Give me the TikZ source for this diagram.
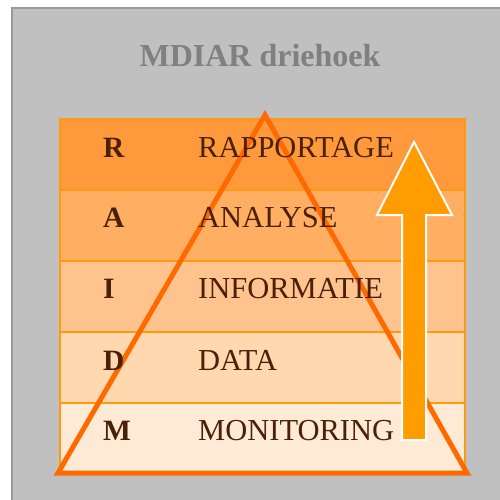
\documentclass[tikz,border=0pt]{standalone}
\usepackage{fontspec}
\setmainfont{Liberation Serif}
\usetikzlibrary{positioning}

\definecolor{panelgray}{HTML}{C0C0C0}
\definecolor{bordergray}{HTML}{9A9A9A}
\definecolor{titlegray}{HTML}{808080}
\definecolor{textbrown}{HTML}{4A2008}
\definecolor{edgeorange}{HTML}{FF9A10}
\definecolor{triorange}{HTML}{FF6A00}
\definecolor{arroworange}{HTML}{FF9C00}
\definecolor{rowR}{HTML}{FF9A3C}
\definecolor{rowA}{HTML}{FFAE62}
\definecolor{rowI}{HTML}{FFC48E}
\definecolor{rowD}{HTML}{FFD8B0}
\definecolor{rowM}{HTML}{FFEAD6}

\begin{document}
\begin{tikzpicture}[x=1pt,y=-1pt]
   \tikzset{rowbox/.style={draw=edgeorange,line width=2pt,minimum width=405pt,minimum height=71pt,inner sep=0pt}}
   \tikzset{letter/.style={anchor=base west,inner sep=0pt,text=textbrown,font=\fontsize{29.5}{30}\selectfont\bfseries}}
   \tikzset{word/.style={anchor=base west,inner sep=0pt,text=textbrown,font=\fontsize{30.5}{31}\selectfont}}
   \useasboundingbox (0,0) rectangle (500,499);
   \fill[white] (0,0) rectangle (500,499);
   \draw[fill=panelgray,draw=bordergray,line width=2pt] (12,8) rectangle (503,503);
   \node[text=titlegray,font=\fontsize{32}{34}\selectfont\bfseries] (title) at (260,56) {MDIAR driehoek};
   % lagen
   \node[rowbox,fill=rowR] (rowR) at (262.5,154) {};
   \node[rowbox,fill=rowA] (rowA) at (262.5,225) {};
   \node[rowbox,fill=rowI] (rowI) at (262.5,296) {};
   \node[rowbox,fill=rowD] (rowD) at (262.5,367) {};
   \node[rowbox,fill=rowM] (rowM) at (262.5,438) {};
   % driehoek
   \draw[triorange,line width=5pt,line join=miter] (265,115) -- (58,473) -- (467,473) -- cycle;
   % teksten
   \node[letter] (lR) at (103,157) {R};
   \node[letter] (lA) at (103,227) {A};
   \node[letter] (lI) at (103,298) {I};
   \node[letter] (lD) at (103,370) {D};
   \node[letter] (lM) at (103,440) {M};
   \node[word] (wR) at (198,157) {RAPPORTAGE};
   \node[word] (wA) at (198,227) {ANALYSE};
   \node[word] (wI) at (198,298) {INFORMATIE};
   \node[word] (wD) at (198,370) {DATA};
   \node[word] (wM) at (198,440) {MONITORING};
   % pijl
   \draw[fill=arroworange,draw=white,line width=2pt,line join=miter]
      (402,440) -- (402,215) -- (377,215) -- (414,142) -- (452,215) -- (426,215) -- (426,440) -- cycle;
\end{tikzpicture}
\end{document}
